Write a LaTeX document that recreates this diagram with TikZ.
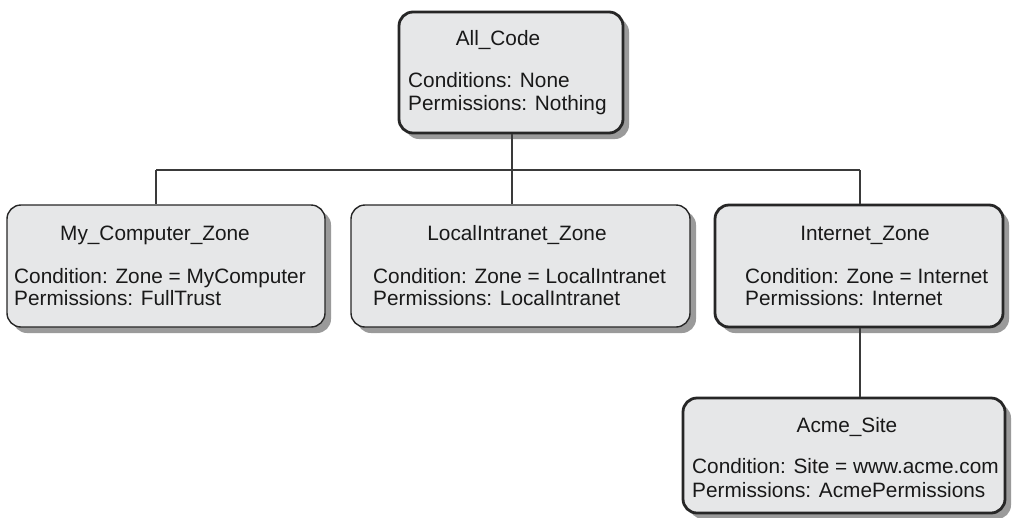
\documentclass[tikz,border=0pt]{standalone}
\usepackage{fontspec}
\setmainfont{Liberation Sans}
\usetikzlibrary{shadows}
\definecolor{boxfill}{HTML}{E6E7E8}
\definecolor{shadowgray}{HTML}{9A9A9A}
\definecolor{linegray}{HTML}{3A3A3A}
\tikzset{
  box/.style={draw=black!85, fill=boxfill, rounded corners=14pt, inner sep=0pt,
    line width=1.4pt,
    drop shadow={shadow xshift=6pt, shadow yshift=-6pt, fill=shadowgray, opacity=1}},
  thickbox/.style={box, line width=2.8pt},
  title/.style={anchor=base, inner sep=0pt, font=\fontsize{20.8}{22}\selectfont, text=black!90},
  txt/.style={anchor=base west, inner sep=0pt, font=\fontsize{20.8}{22}\selectfont, text=black!90},
  conn/.style={draw=linegray, line width=1.5pt}
}
\begin{document}
\begin{tikzpicture}[x=1pt,y=-1pt]
\useasboundingbox (0,0) rectangle (1014,517);
% boxes
\node[thickbox, minimum width=224pt, minimum height=121pt] (allcode) at (511,72.5) {};
\node[box, minimum width=318pt, minimum height=122pt] (mycomp) at (166,266) {};
\node[box, minimum width=339pt, minimum height=122pt] (intranet) at (520.5,266) {};
\node[thickbox, minimum width=288pt, minimum height=122pt] (internet) at (859,266) {};
\node[thickbox, minimum width=322pt, minimum height=115pt] (acme) at (844,455.5) {};
% texts
\node[title] (t1) at (498,45) {All\_Code};
\node[txt] (c1) at (408,87) {Conditions: None};
\node[txt] (p1) at (408,110) {Permissions: Nothing};

\node[title] (t2) at (155,240) {My\_Computer\_Zone};
\node[txt] (c2) at (14,283) {Condition: Zone = MyComputer};
\node[txt] (p2) at (14,305) {Permissions: FullTrust};

\node[title] (t3) at (517,240) {LocalIntranet\_Zone};
\node[txt] (c3) at (373,283) {Condition: Zone = LocalIntranet};
\node[txt] (p3) at (373,305) {Permissions: LocalIntranet};

\node[title] (t4) at (865,240) {Internet\_Zone};
\node[txt] (c4) at (745,283) {Condition: Zone = Internet};
\node[txt] (p4) at (745,305) {Permissions: Internet};

\node[title] (t5) at (847,432) {Acme\_Site};
\node[txt] (c5) at (692,473) {Condition: Site = www.acme.com};
\node[txt] (p5) at (692,497) {Permissions: AcmePermissions};
% connectors
\coordinate (jl) at (156,170);
\coordinate (jm) at (512,170);
\coordinate (jr) at (860,170);
\draw[conn] (allcode.south -| jm) -- (jm);
\draw[conn] (jl) -- (jr);
\draw[conn] (jl) -- (jl |- mycomp.north);
\draw[conn] (jm) -- (jm |- intranet.north);
\draw[conn] (jr) -- (jr |- internet.north);
\draw[conn] (internet.south -| jr) -- (jr |- acme.north);
\end{tikzpicture}
\end{document}
